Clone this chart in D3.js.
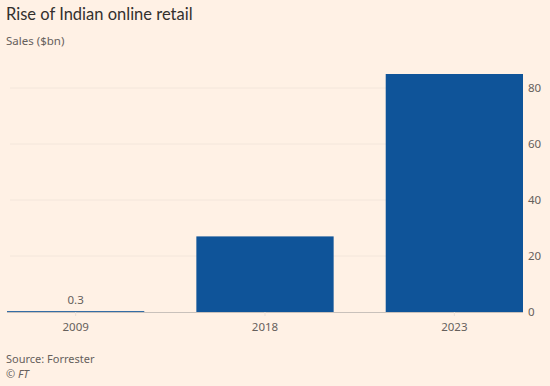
<!DOCTYPE html>
<html lang="en">
<head>
    <meta charset="UTF-8">
    <title>Rise of Indian online retail</title>
    <style>
        body {
            margin: 0;
            background-color: #fff1e5;
        }
        svg {
            display: block;
            font-family: "Noto Sans", sans-serif;
        }
    </style>
</head>
<body>
<script src="https://cdnjs.cloudflare.com/ajax/libs/d3/7.8.5/d3.min.js"></script>
<script>

    let years = ["2009", "2018", "2023"]
    let sales = [0.3, 27, 85]
    let ticks = [0, 20, 40, 60, 80]

    let width = 550
    let height = 386
    let margin = {left: 7, right: 27, top: 60, bottom: 74}

    let svg = d3.select("body").append("svg")
        .attr("width", width)
        .attr("height", height)

    let x = d3.scaleBand()
        .domain(years)
        .range([margin.left, width - margin.right])
        .paddingInner(0.275)
        .paddingOuter(0)

    let y = d3.scaleLinear()
        .domain([0, 90])
        .range([height - margin.bottom, height - margin.bottom - 90 * 2.8])

    // gridlines
    svg.append("g")
        .selectAll("line")
        .data(ticks.filter(d => d > 0))
        .enter()
        .append("line")
            .attr("x1", margin.left + 3)
            .attr("x2", width - margin.right)
            .attr("y1", d => y(d))
            .attr("y2", d => y(d))
            .attr("stroke", "#f3e6db")
            .attr("stroke-width", 1)

    // bars
    svg.append("g")
        .selectAll("rect")
        .data(sales)
        .enter()
        .append("rect")
            .attr("x", (d, i) => x(years[i]))
            .attr("width", x.bandwidth())
            .attr("y", d => y(d))
            .attr("height", d => y(0) - y(d))
            .attr("fill", "#0f5499")

    // baseline
    svg.append("line")
        .attr("x1", margin.left)
        .attr("x2", width - margin.right)
        .attr("y1", y(0) + 0.5)
        .attr("y2", y(0) + 0.5)
        .attr("stroke", "#c9c1bb")

    // label on the small bar
    svg.append("text")
        .attr("x", x(years[0]) + x.bandwidth() / 2)
        .attr("y", y(sales[0]) - 7)
        .attr("text-anchor", "middle")
        .attr("font-size", 11.5)
        .attr("fill", "#66605c")
        .text(sales[0])

    // right axis
    let yAxis = svg.append("g")
        .attr("transform", `translate(${width - margin.right},0)`)
        .call(d3.axisRight(y).tickValues(ticks).tickSize(0).tickPadding(5))
    yAxis.select(".domain").remove()
    yAxis.selectAll("text")
        .attr("font-size", 11.5)
        .attr("font-family", "Noto Sans, sans-serif")
        .attr("fill", "#66605c")

    // bottom axis
    let xAxis = svg.append("g")
        .attr("transform", `translate(0,${y(0)})`)
        .call(d3.axisBottom(x).tickSize(4).tickPadding(7))
    xAxis.select(".domain").remove()
    xAxis.selectAll("line").attr("stroke", "#ebdfd5")
    xAxis.selectAll("text")
        .attr("font-size", 11.5)
        .attr("font-family", "Noto Sans, sans-serif")
        .attr("fill", "#66605c")

    // titles
    svg.append("text")
        .attr("x", 6)
        .attr("y", 20)
        .attr("font-size", 16.5)
        .attr("font-family", "Lato, sans-serif")
        .attr("fill", "#33302e")
        .text("Rise of Indian online retail")

    svg.append("text")
        .attr("x", 6)
        .attr("y", 45)
        .attr("font-size", 11.5)
        .attr("fill", "#66605c")
        .text("Sales ($bn)")

    svg.append("text")
        .attr("x", 6)
        .attr("y", 363)
        .attr("font-size", 11)
        .attr("fill", "#66605c")
        .text("Source: Forrester")

    svg.append("text")
        .attr("x", 6)
        .attr("y", 378)
        .attr("font-size", 11)
        .attr("font-style", "italic")
        .attr("fill", "#66605c")
        .text("© FT")

</script>
</body>
</html>
